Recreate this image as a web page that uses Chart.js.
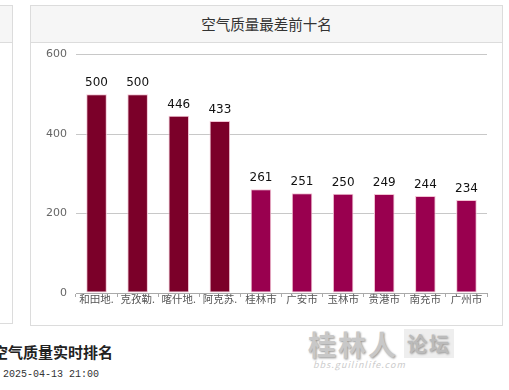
<!DOCTYPE html>
<html>
<head>
<meta charset="utf-8">
<script src="https://cdn.jsdelivr.net/npm/chart.js@4/dist/chart.umd.min.js"></script>
<style>
body { margin:0; width:509px; height:390px; overflow:hidden; background:#fff; position:relative; font-family:"Noto Sans CJK SC", sans-serif; }
.panel { position:absolute; border:1px solid #dcdcdc; background:#fff; box-sizing:border-box; }
.head { position:absolute; left:0; right:0; top:0; height:36px; background:#f6f6f6; border-bottom:1px solid #dcdcdc; text-align:center; line-height:36px; font-size:14.5px; color:#333; }
#left { left:-40px; top:5px; width:53px; height:319px; }
#main { left:30px; top:5px; width:473px; height:321px; }
#wrap { position:absolute; left:0px; top:33px; width:471px; height:285px; }
#sub { position:absolute; left:-7px; top:341px; font-size:15px; font-weight:bold; color:#222; }
#time { position:absolute; left:3px; top:369px; font-size:10px; color:#333; font-family:"Liberation Mono", monospace; }
#wm { position:absolute; left:308px; top:324px; color:#c8c8c8; font-size:28px; font-weight:bold; letter-spacing:2px; text-shadow:1px 1px 2px #999; }
#wm span { font-size:20px; background:#eee; padding:0 3px; margin-left:6px; color:#bbb; vertical-align:4px; }
#wm2 { position:absolute; left:313px; top:358px; color:#ccc; font-size:9px; font-style:italic; letter-spacing:1px; }
</style>
</head>
<body>
<div class="panel" id="left"><div class="head"></div></div>
<div class="panel" id="main">
  <div class="head">空气质量最差前十名</div>
  <div id="wrap"><canvas id="bar"></canvas></div>
</div>
<div id="sub">空气质量实时排名</div>
<div id="time">2025-04-13 21:00</div>
<div id="wm">桂林人<span>论坛</span></div>
<div id="wm2">bbs.guilinlife.com</div>
<script>
var cities = ["和田地.", "克孜勒.", "喀什地.", "阿克苏.", "桂林市", "广安市", "玉林市", "贵港市", "南充市", "广州市"];
var aqi = [500, 500, 446, 433, 261, 251, 250, 249, 244, 234];
var yTicks = [0, 200, 400, 600];

var barColors = aqi.map(function(v){ return v > 300 ? '#7b0029' : '#99004f'; });

var valueLabels = {
	id : 'valueLabels',
	afterDatasetsDraw : function(chart){
		var ctx = chart.ctx;
		var meta = chart.getDatasetMeta(0);
		ctx.save();
		ctx.font = '12px "DejaVu Sans"';
		ctx.fillStyle = '#111';
		ctx.textAlign = 'center';
		ctx.textBaseline = 'bottom';
		meta.data.forEach(function(bar, i){
			ctx.fillText(aqi[i], bar.x, bar.y - 5);
		});
		ctx.restore();
	}
};

new Chart("bar", {
	type : 'bar',
	data : {
		labels : cities,
		datasets : [{
			data : aqi,
			backgroundColor : barColors,
			borderColor : '#f2c4d4',
			borderWidth : 1,
			borderSkipped : false,
			barPercentage : 0.5,
			categoryPercentage : 1
		}]
	},
	options : {
		responsive : true,
		maintainAspectRatio : false,
		animation : false,
		layout : { padding : { top : 6, right : 15, left : 0, bottom : 0 } },
		plugins : { legend : { display : false }, tooltip : { enabled : false } },
		scales : {
			x : {
				offset : true,
				grid : { offset : true, drawOnChartArea : false, tickLength : 4, color : '#aaa' },
				border : { color : '#aaa' },
				ticks : { color : '#555', font : { size : 10.5, family : '"Noto Sans CJK SC"' }, padding : -4, maxRotation : 0, autoSkip : false },
				afterFit : function(s){ s.height = 31; }
			},
			y : {
				min : 0,
				max : 600,
				afterBuildTicks : function(s){ s.ticks = yTicks.map(function(v){ return { value : v }; }); },
				grid : { color : '#c8c8c8', drawTicks : false },
				border : { display : false },
				ticks : { color : '#666', font : { size : 11, family : '"DejaVu Sans"' }, padding : 9 },
				afterFit : function(s){ s.width = 45; }
			}
		}
	},
	plugins : [valueLabels]
});
</script>
</body>
</html>
